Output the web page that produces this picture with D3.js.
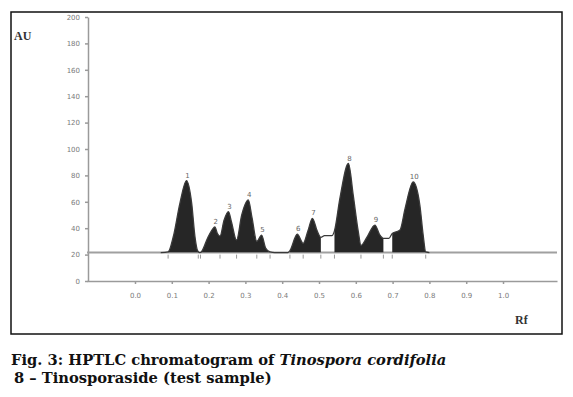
<!DOCTYPE html>
<html lang="en">
<head>
<meta charset="UTF-8">
<title>HPTLC chromatogram of Tinospora cordifolia</title>
<style>
    body { margin: 0; background: #fff; }
    svg { display: block; }
    .axis text { font-family: "DejaVu Sans", sans-serif; font-size: 7px; fill: #7a7a7a; }
    .axis path, .axis line { stroke: #9a9a9a; stroke-width: 1.5; }
</style>
<script src="https://d3js.org/d3.v7.min.js"></script>
</head>
<body>
<svg width="573" height="397"></svg>
<script>
    // densitometric trace: Rf, AU
    const traceRf = [0.070, 0.090, 0.104, 0.122, 0.140, 0.154, 0.163, 0.170, 0.176,
        0.180, 0.198, 0.210, 0.217, 0.224, 0.231, 0.242, 0.254, 0.262, 0.276,
        0.290, 0.308, 0.318, 0.331, 0.344, 0.355, 0.367, 0.380,
        0.415, 0.421, 0.441, 0.457, 0.470, 0.482, 0.495, 0.505, 0.515, 0.535,
        0.542, 0.557, 0.580, 0.593, 0.607, 0.614, 0.630, 0.652, 0.665, 0.675,
        0.690, 0.699, 0.720, 0.734, 0.756, 0.774, 0.783, 0.790, 0.800];
    const traceAU = [21.5, 22, 33.5, 58.8, 76, 59, 33.5, 23, 21.5,
        22, 33, 39, 41, 36, 34, 46, 52.5, 45, 31,
        50, 61.4, 48, 30, 34.8, 25, 22, 21.5,
        21.5, 23, 35.4, 28.5, 38, 47.5, 38, 33, 34.3, 34.3,
        38, 63, 89, 65, 37, 27, 33, 42.4, 35, 32.3,
        32.3, 36, 38.6, 55, 75, 57.6, 35, 22, 21.5];

    // integrated peaks
    const peakLabels = ["1", "2", "3", "4", "5", "6", "7", "8", "9", "10"];
    const peakStart = [0.090, 0.178, 0.231, 0.276, 0.331, 0.421, 0.457, 0.542, 0.614, 0.699];
    const peakEnd = [0.172, 0.231, 0.276, 0.331, 0.367, 0.457, 0.505, 0.614, 0.675, 0.790];

    const baselineAU = 21.5;
    const yTicks = [0, 20, 40, 60, 80, 100, 120, 140, 160, 180, 200];
    const xTicks = [0.0, 0.1, 0.2, 0.3, 0.4, 0.5, 0.6, 0.7, 0.8, 0.9, 1.0];

    const captionLine1 = "Fig. 3: HPTLC chromatogram of ";
    const captionItalic = "Tinospora cordifolia";
    const captionLine2 = "8 \u2013 Tinosporaside (test sample)";

    const svg = d3.select("svg");

    // frame
    svg.append("rect")
        .attr("x", 11).attr("y", 12)
        .attr("width", 551).attr("height", 322)
        .attr("fill", "none").attr("stroke", "#111").attr("stroke-width", 1.5);

    const x = d3.scaleLinear().domain([-0.1304, 1.1467]).range([87, 557]);
    const y = d3.scaleLinear().domain([0, 200]).range([281, 17]);

    const trace = traceRf.map((rf, i) => ({ rf: rf, au: traceAU[i] }));

    // axes
    svg.append("g")
        .attr("class", "axis")
        .attr("transform", "translate(0,281)")
        .call(d3.axisBottom(x).tickValues(xTicks).tickFormat(d3.format(".1f"))
            .tickSize(3).tickSizeOuter(0).tickPadding(9));

    svg.append("g")
        .attr("class", "axis")
        .attr("transform", "translate(88,0)")
        .call(d3.axisLeft(y).tickValues(yTicks).tickSize(3).tickSizeOuter(0).tickPadding(5));

    // baseline
    svg.append("line")
        .attr("x1", x.range()[0]).attr("x2", x.range()[1])
        .attr("y1", y(baselineAU)).attr("y2", y(baselineAU))
        .attr("stroke", "#a0a0a0").attr("stroke-width", 2);

    // filled peaks: whole trace area clipped to the integration windows
    const clip = svg.append("defs").append("clipPath").attr("id", "peaks");
    peakStart.forEach((s, i) => {
        clip.append("rect")
            .attr("x", x(s)).attr("y", 0)
            .attr("width", x(peakEnd[i]) - x(s))
            .attr("height", y(baselineAU));
    });

    const area = d3.area()
        .curve(d3.curveMonotoneX)
        .x(d => x(d.rf))
        .y0(y(baselineAU))
        .y1(d => y(d.au));

    svg.append("path")
        .datum(trace)
        .attr("d", area)
        .attr("fill", "#262626")
        .attr("clip-path", "url(#peaks)");

    const line = d3.line().curve(d3.curveMonotoneX).x(d => x(d.rf)).y(d => y(d.au));
    svg.append("path")
        .datum(trace)
        .attr("d", line)
        .attr("fill", "none")
        .attr("stroke", "#3a3a3a")
        .attr("stroke-width", 1.3);

    // start / end markers under the baseline
    const marks = Array.from(new Set(peakStart.concat(peakEnd)));
    svg.selectAll(".mark")
        .data(marks)
        .join("line")
        .attr("class", "mark")
        .attr("x1", d => x(d)).attr("x2", d => x(d))
        .attr("y1", y(baselineAU) + 2).attr("y2", y(baselineAU) + 6)
        .attr("stroke", "#999").attr("stroke-width", 1);

    // peak numbers
    peakLabels.forEach((lab, i) => {
        const inPeak = trace.filter(d => d.rf >= peakStart[i] && d.rf <= peakEnd[i]);
        const top = d3.greatest(inPeak, d => d.au);
        svg.append("text")
            .attr("x", x(top.rf) + 1)
            .attr("y", y(top.au) - 3)
            .attr("text-anchor", "middle")
            .style("font-family", "DejaVu Sans, sans-serif")
            .style("font-size", "7px")
            .style("fill", "#666")
            .text(lab);
    });

    // axis titles
    svg.append("text")
        .attr("x", 14).attr("y", 40)
        .style("font-family", "Liberation Serif, serif")
        .style("font-weight", "bold")
        .style("font-size", "12px")
        .style("fill", "#333")
        .text("AU");

    svg.append("text")
        .attr("x", 515).attr("y", 324)
        .style("font-family", "Liberation Serif, serif")
        .style("font-weight", "bold")
        .style("font-size", "12px")
        .style("fill", "#333")
        .text("Rf");

    // caption
    const cap = svg.append("text")
        .attr("x", 11).attr("y", 365)
        .style("font-family", "DejaVu Serif, serif")
        .style("font-weight", "bold")
        .style("font-size", "14.7px")
        .style("fill", "#111");
    cap.append("tspan").text(captionLine1);
    cap.append("tspan").style("font-style", "italic").text(captionItalic);

    svg.append("text")
        .attr("x", 14).attr("y", 383)
        .style("font-family", "DejaVu Serif, serif")
        .style("font-weight", "bold")
        .style("font-size", "14.7px")
        .style("fill", "#111")
        .text(captionLine2);
</script>
</body>
</html>
